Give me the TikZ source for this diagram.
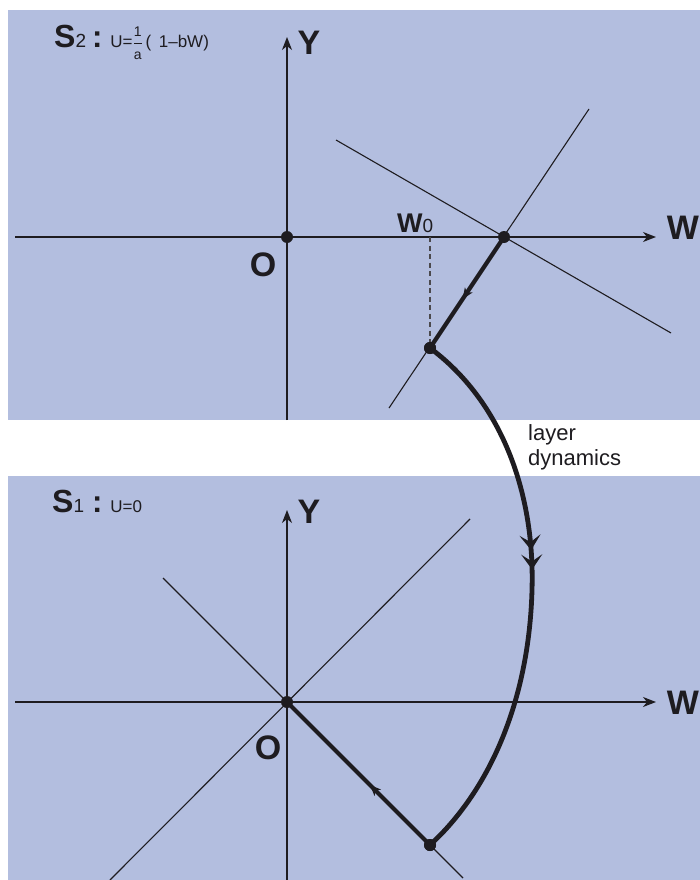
\documentclass[tikz,border=0pt]{standalone}
\usepackage{fontspec}
\setmainfont{Liberation Sans}
\usepackage{amsmath}
\usetikzlibrary{arrows.meta,decorations.markings}
\definecolor{panelblue}{RGB}{179,190,223}
\definecolor{ink}{RGB}{30,28,32}
\newcommand{\smallfrac}{$\dfrac{\text{\fontsize{14}{14}\selectfont 1}}{\text{\fontsize{14}{14}\selectfont a}}$}
\begin{document}
\begin{tikzpicture}[x=1pt,y=-1pt,
  panelbox/.style={fill=panelblue,draw=none},
  axisline/.style={line width=1.3pt,draw=ink,-{Stealth[length=13pt,width=10pt,inset=4pt]}},
  guide/.style={line width=1.1pt,draw=ink},
  trajline/.style={line width=4.2pt,draw=ink},
  curveline/.style={line width=4.8pt,draw=ink},
  dotnode/.style={circle,fill=ink,inner sep=0pt,minimum size=12pt},
  biglabel/.style={font=\fontsize{34}{34}\selectfont\bfseries,text=ink,inner sep=0pt},
  midarrow/.style={postaction={decorate},decoration={markings,mark=at position #1 with {\arrow{Stealth[length=11pt,width=9pt,inset=3pt]}}}},
]
\useasboundingbox (0,0) rectangle (700,880);
\fill[white] (0,0) rectangle (700,880);
% panels
\path[panelbox] (8,10) rectangle (700,420);
\path[panelbox] (8,476) rectangle (700,880);

% ---------- top panel S2 ----------
\coordinate (x2l) at (15,237);
\coordinate (x2r) at (656,237);
\coordinate (y2b) at (287,420);
\coordinate (y2t) at (287,37);
\draw[axisline] (x2l) -- (x2r);
\draw[axisline] (y2b) -- (y2t);
\coordinate (s2a) at (389,408);
\coordinate (s2b) at (589,109);
\coordinate (h2a) at (336,140);
\coordinate (h2b) at (671,333);
\draw[guide] (s2a) -- (s2b);
\draw[guide] (h2a) -- (h2b);
\node[dotnode] (O2) at (287,237) {};
\node[dotnode] (E2) at (504,237) {};
\node[dotnode] (P2) at (430,348) {};
\coordinate (W0) at (430,237);
\draw[line width=1.1pt,draw=ink!80,dash pattern=on 5pt off 3.5pt] (W0) -- (P2.center);
\draw[trajline,midarrow=0.56] (E2.center) -- (P2.center);

\node[biglabel] (Y2) at (309,43) {Y};
\node[biglabel] (Wlab2) at (683,228) {W};
\node[biglabel] (Olab2) at (263,265) {O};
\node[anchor=base west,inner sep=0pt,text=ink] (W0lab) at (397,232) {\fontsize{27}{27}\selectfont\bfseries W\fontsize{19}{19}\selectfont\mdseries 0};
\node[anchor=base west,inner sep=0pt,text=ink] (S2lab) at (54,48)
  {\fontsize{32}{32}\selectfont\bfseries S\mdseries\fontsize{19}{19}\selectfont 2\hspace{6pt}\fontsize{31}{31}\selectfont\bfseries :\hspace{8pt}\mdseries\fontsize{17}{17}\selectfont U=\smallfrac\,(\, 1--bW)};

% ---------- bottom panel S1 ----------
\coordinate (x1l) at (15,702);
\coordinate (x1r) at (656,702);
\coordinate (y1b) at (287,880);
\coordinate (y1t) at (287,510);
\draw[axisline] (x1l) -- (x1r);
\draw[axisline] (y1b) -- (y1t);
\coordinate (d1a) at (110,880);
\coordinate (d1b) at (470,519);
\coordinate (e1a) at (163,578);
\coordinate (e1b) at (463,878);
\draw[guide] (d1a) -- (d1b);
\draw[guide] (e1a) -- (e1b);
\node[dotnode] (O1) at (287,702) {};
\node[dotnode] (P1) at (430,845) {};
\draw[trajline,midarrow=0.42] (P1.center) -- (O1.center);

\node[biglabel] (Y1) at (309,512) {Y};
\node[biglabel] (Wlab1) at (683,703) {W};
\node[biglabel] (Olab1) at (268,748) {O};
\node[anchor=base west,inner sep=0pt,text=ink] (S1lab) at (52,512)
  {\fontsize{32}{32}\selectfont\bfseries S\mdseries\fontsize{19}{19}\selectfont 1\hspace{8pt}\fontsize{31}{31}\selectfont\bfseries :\hspace{8pt}\mdseries\fontsize{17}{17}\selectfont U=0};

% ---------- layer dynamics ----------
\draw[curveline,postaction={decorate},decoration={markings,
   mark=at position 0.42 with {\arrow{Stealth[length=15pt,width=21pt,inset=7pt]}},
   mark=at position 0.455 with {\arrow{Stealth[length=15pt,width=21pt,inset=7pt]}}}]
  (P2.center) .. controls (500,400) and (535,490) .. (532,590)
  .. controls (529,700) and (490,790) .. (P1.center);
\node[dotnode] at (P2) {};
\node[dotnode] at (P1) {};
\node[anchor=north west,align=left,inner sep=0pt,text=ink,font=\fontsize{22}{25}\selectfont] (ld) at (528,424) {layer\\dynamics};
\end{tikzpicture}
\end{document}
